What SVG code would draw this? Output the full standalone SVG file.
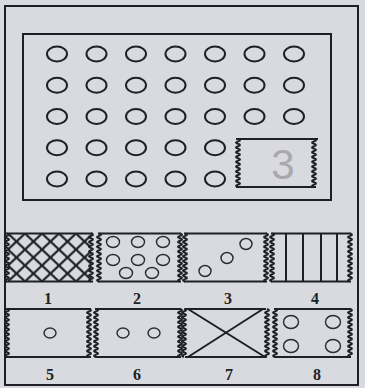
<svg xmlns="http://www.w3.org/2000/svg" xmlns:xlink="http://www.w3.org/1999/xlink" width="365" height="388" viewBox="0 0 365 388">
<style>
.ln{fill:none;stroke:#1f1f26;stroke-width:2}
.c{fill:none;stroke:#1f1f26;stroke-width:2}
.cs{fill:none;stroke:#2a2a32;stroke-width:1.4}
.lb{font-family:"Liberation Serif",serif;font-weight:bold;font-size:16px;fill:#222;text-anchor:middle}
</style>
<defs>
<path id="zz" class="ln" stroke-width="1.6" d="M0,0 q4,1.2 0,2.4 q-4,1.2 0,2.4 q4,1.2 0,2.4 q-4,1.2 0,2.4 q4,1.2 0,2.4 q-4,1.2 0,2.4 q4,1.2 0,2.4 q-4,1.2 0,2.4 q4,1.2 0,2.4 q-4,1.2 0,2.4 q4,1.2 0,2.4 q-4,1.2 0,2.4 q4,1.2 0,2.4 q-4,1.2 0,2.4 q4,1.2 0,2.4 q-4,1.2 0,2.4 q4,1.2 0,2.4 q-4,1.2 0,2.4 q4,1.2 0,2.4 q-4,1.2 0,2.4"/>
<ellipse id="g" rx="10" ry="7.5" class="c"/>
<pattern id="hatch" patternUnits="userSpaceOnUse" x="8" y="233.5" width="17" height="16">
<path d="M0,0 L17,16 M17,0 L0,16" stroke="#1f1f26" stroke-width="2.2" fill="none"/>
</pattern>
</defs>
<rect width="365" height="388" fill="#d9dae0"/>
<g id="frame">
<rect x="5" y="6" width="353" height="379" class="ln"/>
</g>
<g id="board">
<rect x="23" y="34" width="308" height="166" class="ln"/>
<g id="grid">
<use href="#g" x="57" y="54"/><use href="#g" x="96.5" y="54"/><use href="#g" x="136" y="54"/><use href="#g" x="175.5" y="54"/><use href="#g" x="215" y="54"/><use href="#g" x="254.5" y="54"/><use href="#g" x="294" y="54"/>
<use href="#g" x="57" y="85.25"/><use href="#g" x="96.5" y="85.25"/><use href="#g" x="136" y="85.25"/><use href="#g" x="175.5" y="85.25"/><use href="#g" x="215" y="85.25"/><use href="#g" x="254.5" y="85.25"/><use href="#g" x="294" y="85.25"/>
<use href="#g" x="57" y="116.5"/><use href="#g" x="96.5" y="116.5"/><use href="#g" x="136" y="116.5"/><use href="#g" x="175.5" y="116.5"/><use href="#g" x="215" y="116.5"/><use href="#g" x="254.5" y="116.5"/><use href="#g" x="294" y="116.5"/>
<use href="#g" x="57" y="147.75"/><use href="#g" x="96.5" y="147.75"/><use href="#g" x="136" y="147.75"/><use href="#g" x="175.5" y="147.75"/><use href="#g" x="215" y="147.75"/>
<use href="#g" x="57" y="179"/><use href="#g" x="96.5" y="179"/><use href="#g" x="136" y="179"/><use href="#g" x="175.5" y="179"/><use href="#g" x="215" y="179"/>
</g>
<g id="box3">
<path class="ln" d="M236,139 H318 M236,187 H316"/>
<use href="#zz" x="238" y="139"/>
<use href="#zz" x="314" y="139"/>
<text x="283" y="179" font-family="Liberation Sans,sans-serif" font-size="42" fill="#a8a8ad" text-anchor="middle">3</text>
</g>
</g>
<g id="p1">
<rect x="8" y="233.5" width="83" height="48" fill="url(#hatch)"/>
<path class="ln" d="M6,233.5 H93 M6,281.5 H93"/>
<use href="#zz" x="7" y="233.5"/><use href="#zz" x="91" y="233.5"/>
<text class="lb" x="48" y="304">1</text>
</g>
<g id="p2">
<path class="ln" d="M98,233.5 H181 M98,281.5 H181"/>
<use href="#zz" x="99" y="233.5"/><use href="#zz" x="180" y="233.5"/>
<ellipse cx="113" cy="242" rx="6.5" ry="5.5" class="cs"/><ellipse cx="138" cy="242" rx="6.5" ry="5.5" class="cs"/><ellipse cx="163" cy="242" rx="6.5" ry="5.5" class="cs"/>
<ellipse cx="113" cy="260" rx="6.5" ry="5.5" class="cs"/><ellipse cx="138" cy="260" rx="6.5" ry="5.5" class="cs"/><ellipse cx="163" cy="260" rx="6.5" ry="5.5" class="cs"/>
<ellipse cx="126" cy="273" rx="6.5" ry="5.5" class="cs"/><ellipse cx="152" cy="273" rx="6.5" ry="5.5" class="cs"/>
<text class="lb" x="137" y="304">2</text>
</g>
<g id="p3">
<path class="ln" d="M184,233.5 H267 M184,281.5 H267"/>
<use href="#zz" x="185" y="233.5"/><use href="#zz" x="266" y="233.5"/>
<ellipse cx="205" cy="271" rx="6" ry="5.5" class="cs"/><ellipse cx="227" cy="258" rx="6" ry="5.5" class="cs"/><ellipse cx="246" cy="244" rx="6" ry="5.5" class="cs"/>
<text class="lb" x="228" y="304">3</text>
</g>
<g id="p4">
<path class="ln" d="M271,233.5 H351 M271,281.5 H351"/>
<use href="#zz" x="272" y="233.5"/><use href="#zz" x="350" y="233.5"/>
<path class="ln" stroke-width="1.6" d="M286,233.5 V281.5 M303,233.5 V281.5 M321,233.5 V281.5 M337,233.5 V281.5"/>
<text class="lb" x="315" y="304">4</text>
</g>
<g id="p5">
<path class="ln" d="M6,309 H91 M6,357 H91"/>
<use href="#zz" x="7" y="309"/><use href="#zz" x="89" y="309"/>
<ellipse cx="50" cy="333" rx="6" ry="5" class="cs"/>
<text class="lb" x="50" y="380">5</text>
</g>
<g id="p6">
<path class="ln" d="M95,309 H181 M95,357 H181"/>
<use href="#zz" x="96" y="309"/><use href="#zz" x="180" y="309"/>
<ellipse cx="123" cy="333" rx="6" ry="5" class="cs"/><ellipse cx="154" cy="333" rx="6" ry="5" class="cs"/>
<text class="lb" x="137" y="380">6</text>
</g>
<g id="p7">
<path class="ln" d="M185,309 H266 M185,357 H266 M188,309 L265,357 M263,309 L188,357"/>
<use href="#zz" x="184" y="309"/><use href="#zz" x="267" y="309"/>
<text class="lb" x="229" y="380">7</text>
</g>
<g id="p8">
<path class="ln" d="M274,309 H351 M274,357 H351"/>
<use href="#zz" x="275" y="309"/><use href="#zz" x="350" y="309"/>
<ellipse cx="291" cy="322" rx="7.5" ry="6.5" class="cs"/><ellipse cx="333" cy="322" rx="7.5" ry="6.5" class="cs"/>
<ellipse cx="291" cy="346" rx="7.5" ry="6.5" class="cs"/><ellipse cx="333" cy="346" rx="7.5" ry="6.5" class="cs"/>
<text class="lb" x="317" y="380">8</text>
</g>
<g id="connectors"/>
</svg>
